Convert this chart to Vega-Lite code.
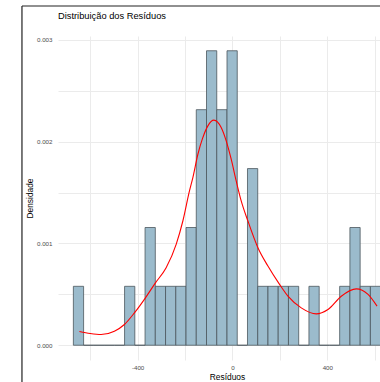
{
  "$schema": "https://vega.github.io/schema/vega-lite/v6.json",
  "width": 338,
  "height": 324,
  "padding": {"left": 21, "top": 5, "right": 0, "bottom": 0},
  "background": "white",
  "title": {"text": "Distribuição dos Resíduos", "anchor": "start", "frame": "group", "offset": -16, "font": "Liberation Sans", "fontSize": 9.3, "fontWeight": "normal", "color": "#000000"},
  "config": {"view": {"stroke": null}, "font": "Liberation Sans"},
  "datasets": {
    "hist": [
      {"bin_start": -671, "bin_end": -627.8, "density": 0.000579},
      {"bin_start": -627.8, "bin_end": -584.6, "density": 0},
      {"bin_start": -584.6, "bin_end": -541.4, "density": 0},
      {"bin_start": -541.4, "bin_end": -498.2, "density": 0},
      {"bin_start": -498.2, "bin_end": -455, "density": 0},
      {"bin_start": -455, "bin_end": -411.8, "density": 0.000579},
      {"bin_start": -411.8, "bin_end": -368.6, "density": 0},
      {"bin_start": -368.6, "bin_end": -325.4, "density": 0.001157},
      {"bin_start": -325.4, "bin_end": -282.2, "density": 0.000579},
      {"bin_start": -282.2, "bin_end": -239, "density": 0.000579},
      {"bin_start": -239, "bin_end": -195.8, "density": 0.000579},
      {"bin_start": -195.8, "bin_end": -152.6, "density": 0.001157},
      {"bin_start": -152.6, "bin_end": -109.4, "density": 0.002315},
      {"bin_start": -109.4, "bin_end": -66.2, "density": 0.002894},
      {"bin_start": -66.2, "bin_end": -23, "density": 0.002315},
      {"bin_start": -23, "bin_end": 20.2, "density": 0.002894},
      {"bin_start": 20.2, "bin_end": 63.4, "density": 0},
      {"bin_start": 63.4, "bin_end": 106.6, "density": 0.001736},
      {"bin_start": 106.6, "bin_end": 149.8, "density": 0.000579},
      {"bin_start": 149.8, "bin_end": 193, "density": 0.000579},
      {"bin_start": 193, "bin_end": 236.2, "density": 0.000579},
      {"bin_start": 236.2, "bin_end": 279.4, "density": 0.000579},
      {"bin_start": 279.4, "bin_end": 322.6, "density": 0},
      {"bin_start": 322.6, "bin_end": 365.8, "density": 0.000579},
      {"bin_start": 365.8, "bin_end": 409, "density": 0},
      {"bin_start": 409, "bin_end": 452.2, "density": 0},
      {"bin_start": 452.2, "bin_end": 495.4, "density": 0.000579},
      {"bin_start": 495.4, "bin_end": 538.6, "density": 0.001157},
      {"bin_start": 538.6, "bin_end": 581.8, "density": 0.000579},
      {"bin_start": 581.8, "bin_end": 625, "density": 0.000579}
    ],
    "dens": [
      {"x": -645.6, "y": 0.000135},
      {"x": -600, "y": 0.000115},
      {"x": -554, "y": 0.000105},
      {"x": -498, "y": 0.000138},
      {"x": -455.7, "y": 0.000204},
      {"x": -413.5, "y": 0.000318},
      {"x": -367, "y": 0.000466},
      {"x": -324.8, "y": 0.000613},
      {"x": -279.7, "y": 0.000761},
      {"x": -237.4, "y": 0.000991},
      {"x": -209.2, "y": 0.001221},
      {"x": -181.3, "y": 0.001516},
      {"x": -167, "y": 0.001647},
      {"x": -145.8, "y": 0.001877},
      {"x": -126.5, "y": 0.00203},
      {"x": -103.6, "y": 0.002156},
      {"x": -78.3, "y": 0.002212},
      {"x": -47.5, "y": 0.002139},
      {"x": -26.4, "y": 0.002008},
      {"x": -5.3, "y": 0.001828},
      {"x": 15.8, "y": 0.001615},
      {"x": 36.9, "y": 0.001418},
      {"x": 65.2, "y": 0.001221},
      {"x": 107.4, "y": 0.000958},
      {"x": 149.6, "y": 0.000778},
      {"x": 198.6, "y": 0.000598},
      {"x": 234, "y": 0.000482},
      {"x": 290.2, "y": 0.000367},
      {"x": 353.5, "y": 0.000308},
      {"x": 402.9, "y": 0.000351},
      {"x": 459, "y": 0.000482},
      {"x": 522.4, "y": 0.000554},
      {"x": 571.8, "y": 0.000499},
      {"x": 609.8, "y": 0.000384}
    ],
    "frame": [{"edge": "frame"}]
  },
  "layer": [
    {
      "data": {"name": "hist"},
      "mark": {"type": "rect", "fill": "#9BBBCC", "stroke": "#4B575D", "strokeWidth": 0.8},
      "encoding": {
        "x": {
          "field": "bin_start", "type": "quantitative", "title": "Resíduos",
          "scale": {"domain": [-735.8, 689.8], "nice": false, "zero": false},
          "axis": {
            "values": [-600, -400, -200, 0, 200, 400, 600],
            "labelExpr": "datum.value % 400 === 0 ? toString(datum.value) : ''",
            "grid": true, "gridColor": "#EBEBEB", "gridWidth": 1,
            "ticks": false, "domain": false,
            "labelFont": "Liberation Sans", "labelFontSize": 6.2, "labelColor": "#4D4D4D", "labelPadding": 4,
            "titleFont": "Liberation Sans", "titleFontSize": 8.4, "titleFontWeight": "normal", "titleColor": "#000000", "titlePadding": 2
          }
        },
        "x2": {"field": "bin_end"},
        "y": {
          "field": "density", "type": "quantitative", "title": "Densidade",
          "scale": {"domain": [-0.000145, 0.003039], "nice": false, "zero": false},
          "axis": {
            "values": [0, 0.0005, 0.001, 0.0015, 0.002, 0.0025, 0.003],
            "labelExpr": "abs(datum.value * 1000 - round(datum.value * 1000)) < 0.000001 ? format(datum.value, '.3f') : ''",
            "grid": true, "gridColor": "#EBEBEB", "gridWidth": 1,
            "ticks": false, "domain": false,
            "labelFont": "Liberation Sans", "labelFontSize": 6.2, "labelColor": "#4D4D4D", "labelPadding": 6,
            "titleFont": "Liberation Sans", "titleFontSize": 8.4, "titleFontWeight": "normal", "titleColor": "#000000", "titlePadding": 2
          }
        },
        "y2": {"datum": 0}
      }
    },
    {
      "data": {"name": "dens"},
      "mark": {"type": "line", "color": "#FF0000", "strokeWidth": 1.1, "interpolate": "monotone"},
      "encoding": {
        "x": {"field": "x", "type": "quantitative"},
        "y": {"field": "y", "type": "quantitative"}
      }
    },
    {
      "data": {"name": "frame"},
      "mark": {"type": "rule", "color": "#222222", "strokeWidth": 1.2},
      "encoding": {
        "x": {"datum": -887.8},
        "y": {"datum": 0.003334},
        "y2": {"datum": -0.0007}
      }
    },
    {
      "data": {"name": "frame"},
      "mark": {"type": "rule", "color": "#222222", "strokeWidth": 1.2},
      "encoding": {
        "x": {"datum": -887.8},
        "x2": {"datum": 900},
        "y": {"datum": 0.003334}
      }
    }
  ]
}
